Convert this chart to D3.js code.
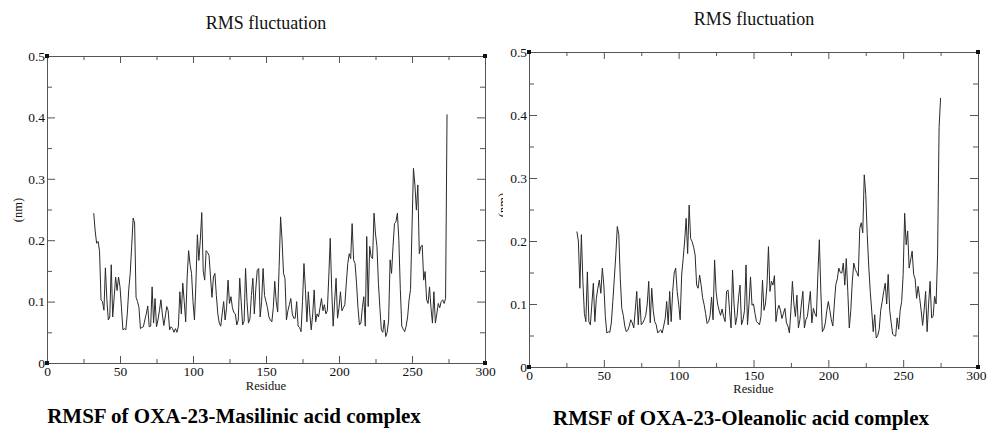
<!DOCTYPE html>
<html>
<head>
<meta charset="utf-8">
<script src="https://cdn.jsdelivr.net/npm/d3@7"></script>
<style>
  html, body { margin:0; padding:0; background:#fff; }
  svg { display:block; }
  svg text { font-family:"Liberation Serif","Times New Roman",serif; }
</style>
</head>
<body>
<div id="chart"></div>
<script>
/* RMSF of two OXA-23 complexes, xmgrace style */

var firstResidue = 32;
var xTicks      = [0, 50, 100, 150, 200, 250, 300];
var xMinorTicks = [25, 75, 125, 175, 225, 275];
var yTicks      = [0, 0.1, 0.2, 0.3, 0.4, 0.5];
var yMinorTicks = [0.05, 0.15, 0.25, 0.35, 0.45];

// RMSF (nm), residue 32 .. 274
var masilinic = [
  .244,.215,.195,.198,.182,.103,.100,.086,.155,.103,
  .070,.075,.160,.075,.107,.140,.118,.140,.124,.090,
  .054,.056,.054,.080,.120,.146,.190,.236,.228,.107,
  .100,.090,.056,.058,.059,.070,.080,.093,.059,.060,
  .124,.065,.105,.059,.070,.085,.103,.080,.061,.075,
  .092,.085,.054,.059,.056,.050,.056,.050,.060,.116,
  .080,.130,.100,.067,.140,.183,.160,.146,.100,.070,
  .130,.209,.167,.200,.245,.150,.135,.183,.180,.175,
  .140,.107,.140,.146,.110,.080,.065,.060,.080,.100,
  .070,.090,.135,.097,.108,.090,.082,.080,.062,.070,
  .138,.100,.062,.068,.154,.100,.065,.072,.110,.138,
  .080,.120,.151,.154,.075,.100,.154,.110,.100,.090,
  .075,.070,.067,.090,.133,.100,.083,.157,.238,.200,
  .146,.138,.070,.085,.095,.105,.080,.073,.073,.100,
  .060,.058,.051,.100,.162,.120,.067,.116,.080,.054,
  .080,.119,.067,.080,.075,.090,.105,.085,.095,.080,
  .085,.140,.203,.120,.060,.100,.138,.073,.090,.116,
  .085,.090,.095,.130,.162,.178,.170,.227,.168,.162,
  .130,.090,.062,.065,.090,.108,.060,.206,.092,.190,
  .173,.170,.244,.210,.190,.130,.090,.054,.050,.070,
  .043,.050,.070,.168,.146,.190,.227,.230,.244,.200,
  .120,.060,.055,.051,.060,.075,.103,.120,.220,.317,
  .290,.249,.290,.178,.189,.192,.135,.149,.103,.097,
  .124,.090,.065,.116,.065,.080,.097,.090,.100,.103,
  .097,.105,.405
];

// RMSF (nm), residue 32 .. 275
var oleanolic = [
  .215,.200,.125,.210,.136,.085,.072,.151,.072,.067,
  .100,.133,.072,.109,.125,.138,.117,.157,.130,.080,
  .054,.056,.055,.070,.104,.140,.178,.223,.210,.140,
  .093,.082,.065,.056,.058,.065,.075,.070,.062,.090,
  .120,.067,.109,.067,.070,.075,.082,.100,.136,.070,
  .125,.090,.072,.067,.054,.057,.059,.054,.065,.077,
  .104,.067,.120,.072,.120,.149,.157,.120,.100,.075,
  .146,.172,.200,.236,.180,.257,.204,.199,.190,.178,
  .130,.125,.146,.130,.110,.099,.085,.069,.072,.082,
  .111,.075,.170,.120,.100,.090,.082,.092,.080,.072,
  .120,.122,.090,.062,.154,.100,.067,.080,.110,.130,
  .067,.075,.090,.162,.067,.100,.143,.098,.100,.085,
  .072,.070,.067,.080,.138,.090,.100,.130,.191,.120,
  .136,.130,.145,.072,.090,.098,.090,.077,.085,.093,
  .070,.065,.054,.090,.136,.100,.080,.114,.062,.075,
  .100,.120,.062,.075,.080,.100,.120,.070,.093,.085,
  .080,.146,.202,.120,.056,.060,.070,.090,.104,.090,
  .075,.065,.100,.131,.140,.157,.150,.149,.165,.130,
  .172,.120,.062,.090,.135,.165,.155,.150,.144,.220,
  .229,.213,.305,.274,.210,.160,.120,.089,.056,.083,
  .046,.050,.060,.090,.104,.120,.133,.100,.147,.090,
  .070,.052,.050,.049,.078,.060,.090,.104,.147,.244,
  .194,.216,.157,.170,.184,.147,.140,.109,.128,.110,
  .090,.066,.090,.120,.056,.100,.136,.078,.080,.112,
  .100,.178,.380,.427
];

var W = 987, H = 430;
var serif = '"Liberation Serif","Times New Roman",serif';
var svg = d3.select('#chart').append('svg').attr('width',W).attr('height',H);
var defs = svg.append('defs');

function drawPanel(p) {
    var x = d3.scaleLinear().domain([0,300]).range([p.x0,p.x1]);
    var y = d3.scaleLinear().domain([0,0.5]).range([p.y1,p.y0]);
    var g = svg.append('g');
    var fmt = d3.format('~g');

    // minor ticks (no labels) on all four sides
    g.append('g').attr('transform','translate(0,'+p.y1+')')
        .call(d3.axisBottom(x).tickValues(xMinorTicks).tickSize(-4).tickFormat(''));
    g.append('g').attr('transform','translate(0,'+p.y0+')')
        .call(d3.axisTop(x).tickValues(xMinorTicks).tickSize(-4).tickFormat(''));
    g.append('g').attr('transform','translate('+p.x0+',0)')
        .call(d3.axisLeft(y).tickValues(yMinorTicks).tickSize(-5).tickFormat(''));
    g.append('g').attr('transform','translate('+p.x1+',0)')
        .call(d3.axisRight(y).tickValues(yMinorTicks).tickSize(-5).tickFormat(''));

    // major ticks
    var xb = g.append('g').attr('transform','translate(0,'+p.y1+')')
        .call(d3.axisBottom(x).tickValues(xTicks).tickSize(-7).tickPadding(3).tickFormat(fmt));
    g.append('g').attr('transform','translate(0,'+p.y0+')')
        .call(d3.axisTop(x).tickValues(xTicks).tickSize(-7).tickFormat(''));
    g.append('g').attr('transform','translate('+p.x0+',0)')
        .call(d3.axisLeft(y).tickValues(yTicks).tickSize(-8).tickPadding(2).tickFormat(fmt));
    g.append('g').attr('transform','translate('+p.x1+',0)')
        .call(d3.axisRight(y).tickValues(yTicks).tickSize(-8).tickFormat(''));

    g.selectAll('.domain').attr('stroke','#555').attr('stroke-width',1);
    g.selectAll('.tick line').attr('stroke','#555');
    g.selectAll('.tick text').attr('fill','#111')
        .style('font-family',serif).style('font-size','13.5px');
    // keep the last label inside the page on the right-hand panel
    if (p.clampLast) {
        xb.selectAll('.tick text').filter(function(d){ return d===300; })
            .attr('text-anchor','end').attr('x',W-1-p.x1);
    }

    // corner markers
    var corners = [[0,0],[0,0.5],[300,0.5],[300,0]];
    g.selectAll('rect.corner').data(corners).join('rect').attr('class','corner')
        .attr('x',function(d){ return x(d[0])-2; }).attr('y',function(d){ return y(d[1])-2; })
        .attr('width',4).attr('height',4).attr('fill','#111');

    // RMSF trace
    var pts = p.values.map(function(v,i){ return [firstResidue+i, v]; });
    g.append('path').datum(pts)
        .attr('fill','none').attr('stroke','#2a2a2a').attr('stroke-width',1)
        .attr('stroke-linejoin','round')
        .attr('d', d3.line().x(function(d){ return x(d[0]); }).y(function(d){ return y(d[1]); }));

    // titles and labels
    g.append('text').attr('x',p.titleX).attr('y',p.titleY).attr('text-anchor','middle')
        .style('font-size','18px').attr('fill','#111').text('RMS fluctuation');
    g.append('text').attr('x',(p.x0+p.x1)/2).attr('y',p.xlabY).attr('text-anchor','middle')
        .style('font-size','12.5px').attr('fill','#111').text('Residue');
    var ylg = g.append('g');
    if (p.ylabClip) {
        defs.append('clipPath').attr('id','ylclip').append('rect')
            .attr('x',p.ylabClip[0]).attr('y',0).attr('width',p.ylabClip[1]-p.ylabClip[0]).attr('height',H);
        ylg.attr('clip-path','url(#ylclip)');
    }
    ylg.append('text').attr('transform','translate('+p.ylabX+','+p.ylabY+') rotate(-90)')
        .attr('text-anchor','middle').style('font-size','12.5px').attr('fill','#111').text('(nm)');
    g.append('text').attr('x',p.capX).attr('y',p.capY).attr('text-anchor','middle')
        .style('font-size','21px').attr('font-weight','bold').attr('fill','#000').text(p.caption);
}

drawPanel({
    x0:47, x1:485, y0:56, y1:363, values:masilinic,
    titleX:266, titleY:29, xlabY:390, ylabX:22, ylabY:210,
    capX:234, capY:423, caption:'RMSF of OXA-23-Masilinic acid complex'
});
drawPanel({
    x0:529, x1:978, y0:52, y1:367, values:oleanolic, clampLast:true,
    titleX:754, titleY:25, xlabY:393, ylabX:507, ylabY:205, ylabClip:[494,503],
    capX:741, capY:425, caption:'RMSF of OXA-23-Oleanolic acid complex'
});
</script>
</body>
</html>
